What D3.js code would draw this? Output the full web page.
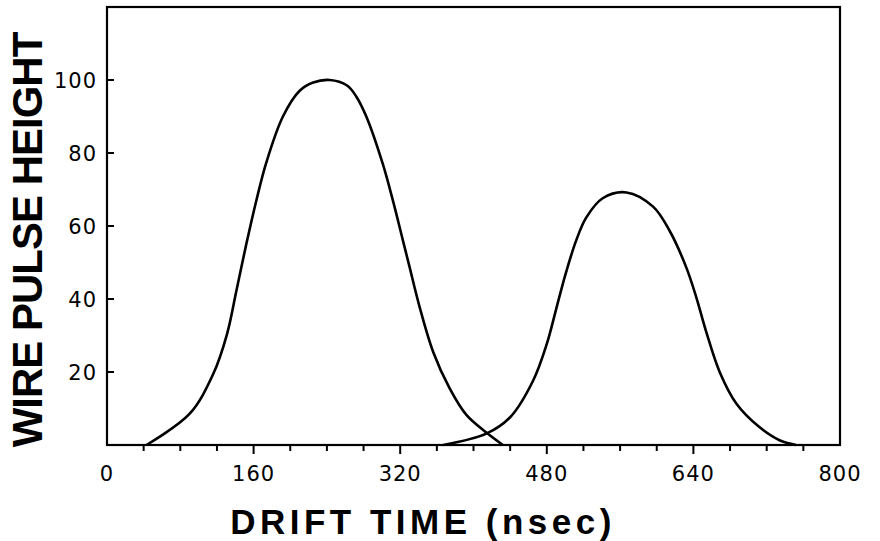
<!DOCTYPE html>
<html>
<head>
<meta charset="utf-8">
<script src="https://cdn.jsdelivr.net/npm/d3@7"></script>
<style>
  body { margin: 0; background: #fff; }
  svg { display: block; }
  .tick-label { font-family: "DejaVu Sans", sans-serif; font-size: 21px; letter-spacing: 1px; fill: #000; }
  .axis-title { font-family: "Liberation Sans", Arial, sans-serif; font-weight: bold; fill: #000; }
</style>
</head>
<body>
<svg id="chart" width="880" height="541"></svg>
<script>
// drift time (nsec) / pulse height
var peak1Time = [43, 90, 116, 131, 141, 152, 163, 174, 192, 210, 225, 243, 262, 272, 283, 301, 312, 323, 330, 341, 356, 374, 392, 414, 432];
var peak1Height = [0, 8.5, 19.5, 30.4, 42, 55, 67, 77.5, 90, 97, 99.3, 100, 98.5, 95.5, 90, 77, 67, 56, 49, 38, 25.5, 15.5, 8.3, 3.4, 0];

var peak2Time = [367, 414, 440, 465, 480, 491, 501, 512, 523, 541, 567, 596, 614, 632, 643, 654, 669, 687, 712, 734, 752];
var peak2Height = [0, 3.1, 7.6, 17.6, 27.7, 38, 47.3, 56, 62.3, 67.6, 69.2, 65.3, 58.7, 48.8, 40.6, 31, 19.8, 11.3, 4.9, 1.3, 0];

var xTickValues = [0, 160, 320, 480, 640, 800];
var xMinorTicks = [40, 80, 120, 160, 200, 240, 280, 320, 360, 400, 440, 480, 520, 560, 600, 640, 680, 720, 760];
var yTickValues = [20, 40, 60, 80, 100];

var svg = d3.select("#chart");

var margin = {left: 107, right: 40, top: 7, bottom: 96};
var width = 880 - margin.left - margin.right,
    height = 541 - margin.top - margin.bottom;

var x = d3.scaleLinear().domain([0, 800]).range([0, width]);
var y = d3.scaleLinear().domain([0, 120]).range([height, 0]);

var g = svg.append("g")
  .attr("transform", "translate(" + margin.left + "," + margin.top + ")");

// frame
g.append("rect")
  .attr("x", 0)
  .attr("y", 0)
  .attr("width", width)
  .attr("height", height)
  .attr("fill", "none")
  .attr("stroke", "#000")
  .attr("stroke-width", 2.2);

// x ticks, outside, longer at the labelled ones
g.selectAll(".xtick")
  .data(xMinorTicks)
  .enter().append("line")
  .attr("class", "xtick")
  .attr("x1", function(d) { return x(d); })
  .attr("x2", function(d) { return x(d); })
  .attr("y1", height)
  .attr("y2", function(d) { return height + (d % 160 === 0 ? 9 : 6); })
  .attr("stroke", "#000")
  .attr("stroke-width", 2);

g.selectAll(".xlabel")
  .data(xTickValues)
  .enter().append("text")
  .attr("class", "tick-label")
  .attr("x", function(d) { return x(d); })
  .attr("y", height + 36)
  .attr("text-anchor", "middle")
  .text(function(d) { return d; });

// y ticks, inside
g.selectAll(".ytick")
  .data(yTickValues)
  .enter().append("line")
  .attr("class", "ytick")
  .attr("x1", 0)
  .attr("x2", 7)
  .attr("y1", function(d) { return y(d); })
  .attr("y2", function(d) { return y(d); })
  .attr("stroke", "#000")
  .attr("stroke-width", 2);

g.selectAll(".ylabel")
  .data(yTickValues)
  .enter().append("text")
  .attr("class", "tick-label")
  .attr("x", -10)
  .attr("y", function(d) { return y(d); })
  .attr("dy", "0.36em")
  .attr("text-anchor", "end")
  .text(function(d) { return d; });

// curves
var line = d3.line()
  .x(function(d) { return x(d[0]); })
  .y(function(d) { return y(d[1]); })
  .curve(d3.curveCatmullRom.alpha(0.5));

var peaks = [d3.zip(peak1Time, peak1Height), d3.zip(peak2Time, peak2Height)];

g.selectAll(".peak")
  .data(peaks)
  .enter().append("path")
  .attr("class", "peak")
  .attr("d", line)
  .attr("fill", "none")
  .attr("stroke", "#000")
  .attr("stroke-width", 2.6)
  .attr("stroke-linejoin", "round");

// axis titles
svg.append("text")
  .attr("class", "axis-title")
  .attr("x", 423)
  .attr("y", 534)
  .attr("text-anchor", "middle")
  .style("font-size", "35px")
  .style("letter-spacing", "4.5px")
  .text("DRIFT TIME (nsec)");

svg.append("text")
  .attr("class", "axis-title")
  .attr("transform", "translate(42,240) rotate(-90)")
  .attr("text-anchor", "middle")
  .style("font-size", "42px")
  .style("letter-spacing", "-1px")
  .text("WIRE PULSE HEIGHT");
</script>
</body>
</html>
